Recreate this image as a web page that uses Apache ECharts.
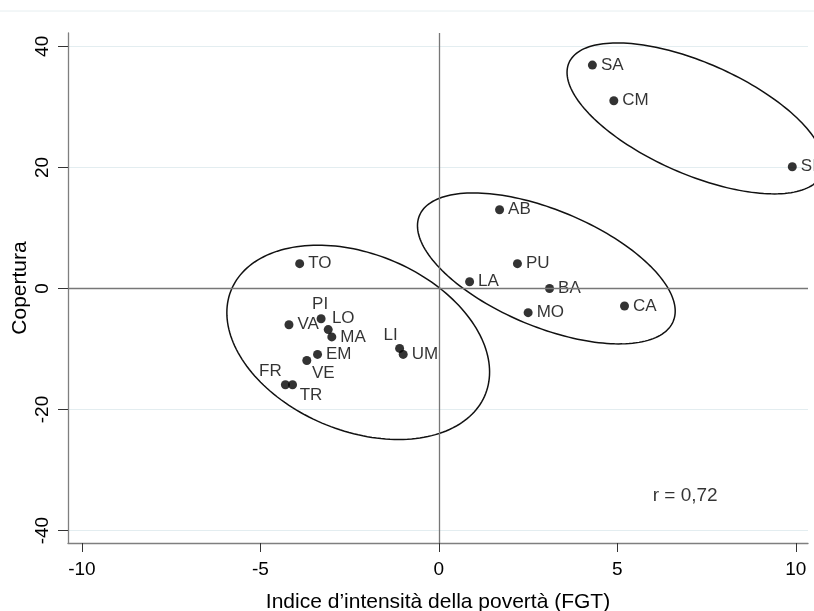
<!DOCTYPE html>
<html>
<head>
<meta charset="utf-8">
<script src="https://cdn.jsdelivr.net/npm/echarts@6/dist/echarts.min.js"></script>
<style>
  html, body { margin: 0; padding: 0; background: #ffffff; }
  #chart { width: 814px; height: 611px; }
</style>
</head>
<body>
<div id="chart"></div>
<script>
// Regional poverty intensity (FGT) vs coverage, deviations from the national value
const regions   = ['SA', 'CM', 'SI', 'AB', 'PU', 'LA', 'BA', 'MO', 'CA', 'TO', 'PI', 'VA', 'LO', 'MA', 'EM', 'VE', 'FR', 'TR', 'LI', 'UM'];
const fgt       = [4.3, 4.9, 9.9, 1.7, 2.2, 0.86, 3.1, 2.5, 5.2, -3.9, -3.3, -4.2, -3.1, -3.0, -3.4, -3.7, -4.3, -4.1, -1.1, -1.0];
const copertura = [36.9, 31.0, 20.1, 13.0, 4.1, 1.1, 0.0, -4.0, -2.9, 4.1, -5.0, -6.0, -6.8, -8.0, -10.9, -11.9, -15.9, -15.9, -9.9, -10.9];

const xTicks = [-10, -5, 0, 5, 10];
const yTicks = [-40, -20, 0, 20, 40];

// Group ellipses: centre, half-extent along x and y, y shift at the rightmost point
const ellipseCx = [-2.26, 3.01, 7.19];
const ellipseCy = [-8.9, 3.31, 28.09];
const ellipseRx = [3.68, 3.61, 3.6];
const ellipseRy = [16.05, 12.47, 12.47];
const ellipseK  = [-4.9, -7.05, -7.6];

const corrLabel = 'r = 0,72';
const corrAt = [6.9, -34.2];

// Marker label placements that differ from the default (right of the dot):
// shift of the label centre from the dot centre, in pixels
const labelShift = {
  PI: [-1, -14],
  LO: [15, -11],
  VE: [16.5, 13],
  FR: [-15, -13.3],
  TR: [18.5, 10.5],
  LI: [-9, -13]
};

const FONT = "'Liberation Sans', Arial, sans-serif";
const INK = '#000000';
const DOT = 9;

const points = regions.map(function (name, i) {
  const item = { name: name, value: [fgt[i], copertura[i]] };
  const sh = labelShift[name];
  if (sh) {
    item.label = {
      position: [DOT / 2 + sh[0], DOT / 2 + sh[1]],
      align: 'center',
      verticalAlign: 'middle'
    };
  }
  return item;
});

const ellipses = ellipseCx.map(function (cx, i) {
  return [cx, ellipseCy[i], ellipseRx[i], ellipseRy[i], ellipseK[i]];
});

const chart = echarts.init(document.getElementById('chart'), null, { renderer: 'canvas' });

chart.setOption({
  backgroundColor: '#ffffff',
  animation: false,
  grid: { left: 68, right: 6, top: 33, bottom: 68, containLabel: false, outerBoundsMode: 'none' },
  graphic: [{
    type: 'line',
    shape: { x1: 0, y1: 11, x2: 814, y2: 11 },
    style: { stroke: '#e6eef0', lineWidth: 1 },
    silent: true
  }],
  xAxis: {
    type: 'value',
    min: -10.39,
    max: 10.34,
    name: 'Indice d\u2019intensità della povertà (FGT)',
    nameLocation: 'middle',
    nameGap: 49,
    nameMoveOverlap: false,
    nameTextStyle: { fontFamily: FONT, fontSize: 21, color: INK },
    axisLine: { show: true, onZero: false, lineStyle: { color: '#7f7f7f', width: 1.3 } },
    axisTick: { show: true, customValues: xTicks, length: 9, lineStyle: { color: '#333333', width: 1 } },
    axisLabel: { customValues: xTicks, fontFamily: FONT, fontSize: 19, color: INK, margin: 17 },
    splitLine: { show: false }
  },
  yAxis: {
    type: 'value',
    min: -42.05,
    max: 42.2,
    name: 'Copertura',
    nameLocation: 'middle',
    nameGap: 37,
    nameRotate: 90,
    nameMoveOverlap: false,
    nameTextStyle: { fontFamily: FONT, fontSize: 21, color: INK },
    axisLine: { show: true, onZero: false, lineStyle: { color: '#7f7f7f', width: 1.3 } },
    axisTick: { show: true, customValues: yTicks, length: 10, lineStyle: { color: '#333333', width: 1 } },
    axisLabel: { customValues: yTicks, rotate: 90, fontFamily: FONT, fontSize: 19, color: INK, margin: 16 },
    splitLine: { show: true, lineStyle: { color: '#e3edf0', width: 1.2 } }
  },
  series: [
    {
      // reference lines through the origin
      type: 'scatter',
      data: [],
      z: 1,
      silent: true,
      markLine: {
        silent: true,
        symbol: 'none',
        label: { show: false },
        lineStyle: { color: '#777777', width: 1.3, type: 'solid' },
        data: [{ xAxis: 0 }, { yAxis: 0 }]
      }
    },
    {
      type: 'custom',
      z: 2,
      silent: true,
      clip: false,
      data: ellipses,
      renderItem: function (params, api) {
        const cx = api.value(0), cy = api.value(1), rx = api.value(2), ry = api.value(3), k = api.value(4);
        const s = Math.sqrt(ry * ry - k * k);
        const pts = [];
        const steps = 180;
        for (let j = 0; j <= steps; j++) {
          const t = (j / steps) * Math.PI * 2;
          pts.push(api.coord([cx + rx * Math.cos(t), cy + k * Math.cos(t) + s * Math.sin(t)]));
        }
        return {
          type: 'polyline',
          shape: { points: pts },
          style: { stroke: '#111111', lineWidth: 1.5, fill: 'none' }
        };
      }
    },
    {
      type: 'scatter',
      z: 3,
      symbol: 'circle',
      symbolSize: DOT,
      itemStyle: { color: '#000000' },
      data: points,
      label: {
        show: true,
        position: 'right',
        distance: 4,
        formatter: '{b}',
        fontFamily: FONT,
        fontSize: 17,
        color: INK
      },
      labelLayout: { hideOverlap: false }
    },
    {
      type: 'scatter',
      z: 3,
      symbolSize: 0,
      data: [corrAt],
      label: {
        show: true,
        position: 'inside',
        formatter: corrLabel,
        fontFamily: FONT,
        fontSize: 19,
        color: INK
      }
    }
  ]
});
</script>
</body>
</html>
